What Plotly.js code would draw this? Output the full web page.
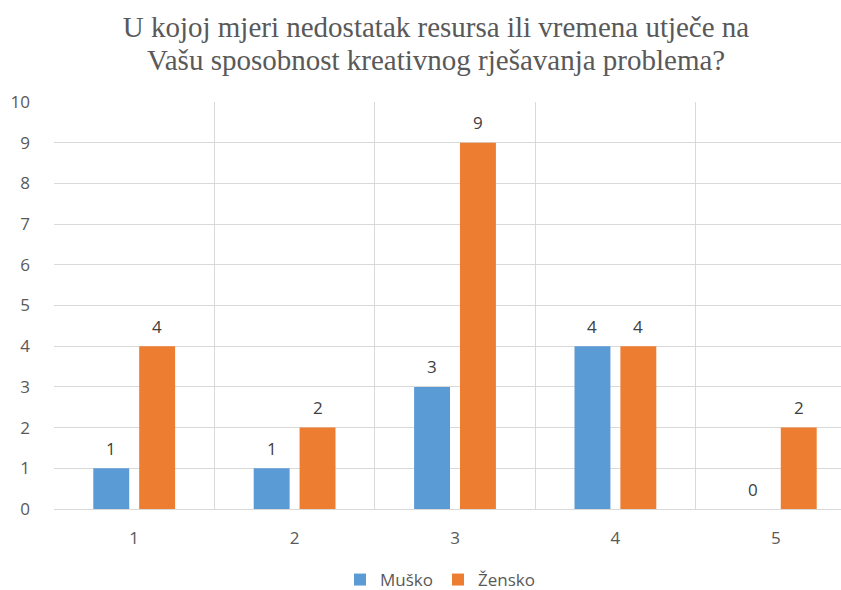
<!DOCTYPE html>
<html>
<head>
<meta charset="utf-8">
<script src="https://cdn.plot.ly/plotly-3.0.1.min.js"></script>
<style>html,body{margin:0;padding:0;background:#fff;}#chart{width:841px;height:590px;}</style>
</head>
<body>
<div id="chart"></div>
<script>
const categories = ["1", "2", "3", "4", "5"];
const musko = [1, 1, 3, 4, 0];
const zensko = [4, 2, 9, 4, 2];
const seriesNames = ["Muško", "Žensko"];
const yTicks = [0, 1, 2, 3, 4, 5, 6, 7, 8, 9, 10];
const titleLine1 = "U kojoj mjeri nedostatak resursa ili vremena utječe na";
const titleLine2 = "Vašu sposobnost kreativnog rješavanja problema?";

const colors = ["#5B9BD5", "#ED7D31"];
const labelColor = "#404040";
const bargap = 0.428;
const bargroupgap = 0.217;
const slot = (1 - bargap) / 2;
const titleFont = { family: "Liberation Serif, serif", size: 29, color: "#595959" };
const titleCenterX = 436;

const series = [musko, zensko];
const traces = series.map((vals, i) => ({
  type: "bar",
  name: seriesNames[i],
  x: categories,
  y: vals,
  marker: { color: colors[i] },
  hoverinfo: "skip"
}));

const annotations = [];
series.forEach((vals, i) => {
  const off = (i - 0.5) * slot;
  vals.forEach((v, j) => {
    annotations.push({
      x: j + off, y: v, xref: "x", yref: "y",
      text: String(v), showarrow: false,
      yanchor: "middle", yshift: 20,
      font: { family: "Open Sans, sans-serif", size: 17, color: labelColor }
    });
  });
});
// second title line (tighter line spacing than Plotly's <br>)
annotations.push({
  text: titleLine2, showarrow: false,
  xref: "paper", yref: "paper",
  x: (titleCenterX - 54) / 787, xanchor: "center",
  y: (509 - 60) / 407, yanchor: "middle",
  font: titleFont
});

const layout = {
  width: 841, height: 590,
  margin: { l: 54, r: 0, t: 102, b: 81 },
  paper_bgcolor: "#ffffff", plot_bgcolor: "#ffffff",
  font: { family: "Open Sans, sans-serif", size: 17, color: "#595959" },
  title: {
    text: titleLine1,
    font: titleFont,
    x: titleCenterX / 841, xref: "container", xanchor: "center",
    y: 1 - 27 / 590, yref: "container", yanchor: "middle"
  },
  barmode: "group", bargap: bargap, bargroupgap: bargroupgap,
  xaxis: {
    type: "category",
    range: [-0.5, -0.5 + 787 / 160.4],
    autorange: false,
    tickson: "boundaries",
    showgrid: true, gridcolor: "#D9D9D9", gridwidth: 1,
    showline: true, linecolor: "#D9D9D9", linewidth: 1,
    ticks: "", ticklabelstandoff: 14,
    tickfont: { family: "Open Sans, sans-serif", size: 17, color: "#595959" },
    fixedrange: true
  },
  yaxis: {
    range: [0, 10], autorange: false,
    tickvals: yTicks, ticktext: yTicks.map(String),
    showgrid: true, gridcolor: "#D9D9D9", gridwidth: 1,
    zeroline: true, zerolinecolor: "#D9D9D9", zerolinewidth: 1,
    showline: false, ticks: "", ticklabelstandoff: 23,
    tickfont: { family: "Open Sans, sans-serif", size: 17, color: "#595959" },
    fixedrange: true
  },
  showlegend: true,
  legend: {
    orientation: "h",
    x: 440 / 841, xref: "container", xanchor: "center",
    y: 1 - 580 / 590, yref: "container", yanchor: "middle",
    font: { family: "Open Sans, sans-serif", size: 17, color: "#595959" },
    itemwidth: 30
  },
  annotations: annotations
};

Plotly.newPlot("chart", traces, layout, { staticPlot: true, displayModeBar: false });
</script>
</body>
</html>
